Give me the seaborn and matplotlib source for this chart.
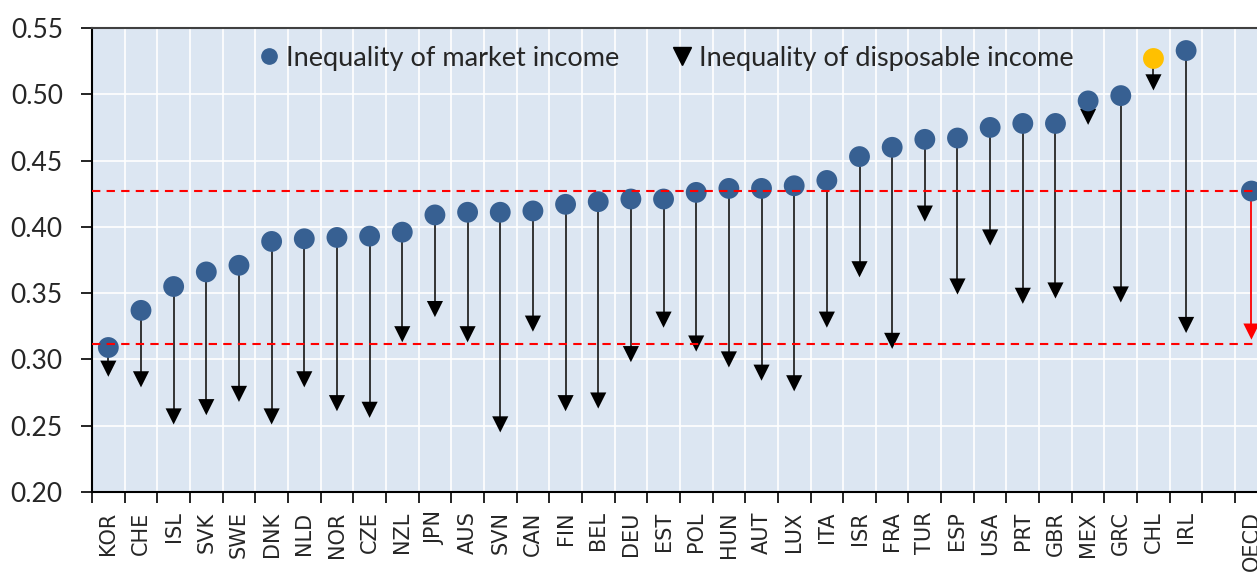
import numpy as np
import pandas as pd
import matplotlib
matplotlib.use("Agg")
import matplotlib.pyplot as plt
import seaborn as sns
from matplotlib.lines import Line2D

# Gini values
countries = ["KOR", "CHE", "ISL", "SVK", "SWE", "DNK", "NLD", "NOR", "CZE", "NZL",
             "JPN", "AUS", "SVN", "CAN", "FIN", "BEL", "DEU", "EST", "POL", "HUN",
             "AUT", "LUX", "ITA", "ISR", "FRA", "TUR", "ESP", "USA", "PRT", "GBR",
             "MEX", "GRC", "CHL", "IRL", "", "OECD"]
market = [0.309, 0.337, 0.355, 0.366, 0.371, 0.389, 0.391, 0.392, 0.393, 0.396,
          0.409, 0.411, 0.411, 0.412, 0.417, 0.419, 0.421, 0.421, 0.426, 0.429,
          0.429, 0.431, 0.435, 0.453, 0.460, 0.466, 0.467, 0.475, 0.478, 0.478,
          0.495, 0.499, 0.527, 0.533, np.nan, 0.427]
disposable = [0.293, 0.285, 0.257, 0.264, 0.274, 0.257, 0.285, 0.267, 0.262, 0.319,
              0.338, 0.319, 0.251, 0.327, 0.267, 0.269, 0.304, 0.330, 0.312, 0.300,
              0.290, 0.282, 0.330, 0.368, 0.314, 0.410, 0.355, 0.392, 0.348, 0.352,
              0.483, 0.349, 0.509, 0.326, np.nan, 0.321]
oecd_lines = [0.427, 0.312]
highlight = "CHL"

df = pd.DataFrame({"country": countries, "market": market, "disposable": disposable})
df["pos"] = np.arange(len(df))
df["dot"] = np.where(df["country"] == highlight, "hl", "base")
df["tri"] = np.where(df["country"] == "OECD", "oecd", "base")

sns.set_style("whitegrid", {"axes.facecolor": "#DCE6F2", "grid.color": "white"})
plt.rcParams["font.family"] = ["Lato", "DejaVu Sans"]

fig = plt.figure(figsize=(12.57, 5.74), dpi=100)
step = 32.66
ax = fig.add_axes([92 / 1257, 82 / 574, len(df) * step / 1257, 464 / 574])

valid = df.dropna()
stem_cols = ["red" if c == "OECD" else "#262626" for c in valid["country"]]
ax.vlines(valid["pos"], valid["disposable"], valid["market"], colors=stem_cols,
          lw=1.3, zorder=2)

sns.scatterplot(data=valid, x="pos", y="disposable", hue="tri", marker="v", s=135,
                palette={"base": "black", "oecd": "red"}, linewidth=0,
                legend=False, zorder=3, ax=ax)
sns.scatterplot(data=valid, x="pos", y="market", hue="dot", marker="o", s=225,
                palette={"base": "#376092", "hl": "#FFC000"}, linewidth=0,
                legend=False, zorder=4, ax=ax)

for v in oecd_lines:
    ax.axhline(v, color="red", ls=(0, (4, 3)), lw=1.5, zorder=5)

ax.set_xlim(-0.5, len(df) - 0.5)
ax.set_ylim(0.20, 0.55)
ax.set_xlabel("")
ax.set_ylabel("")

ax.set_xticks(df["pos"])
ax.set_xticklabels(df["country"], rotation=90, fontsize=15, fontfamily="DejaVu Sans")
ax.set_xticks(np.arange(-0.5, len(df)), minor=True)
ax.tick_params(axis="x", which="major", length=0, pad=14, bottom=True,
               labelsize=15, labelfontfamily="DejaVu Sans")
ax.tick_params(axis="x", which="minor", length=8, width=1.2, color="black",
               direction="out", bottom=True)
yt = np.arange(0.20, 0.551, 0.05)
ax.set_yticks(yt)
ax.set_yticklabels([f"{v:.2f}" for v in yt])
ax.tick_params(axis="y", length=8, width=1.2, color="black", direction="out",
               labelsize=19, pad=13, left=True)

ax.grid(False, axis="x", which="major")
ax.grid(True, axis="x", which="minor", color="white", lw=1.2)
ax.grid(True, axis="y", which="major", color="white", lw=1.2)

for side in ["left", "bottom"]:
    ax.spines[side].set_color("black")
    ax.spines[side].set_linewidth(1.5)
ax.spines["top"].set_color("#404040")
ax.spines["top"].set_linewidth(1.5)
ax.spines["right"].set_visible(False)

handles = [Line2D([], [], marker="o", ls="", color="#376092", markersize=11),
           Line2D([], [], marker="v", ls="", color="black", markersize=13)]
ax.legend(handles, ["Inequality of market income", "Inequality of disposable income"],
          ncol=2, loc="center", bbox_to_anchor=(0.488, 0.935), frameon=False,
          handletextpad=0.25, columnspacing=1.9, handlelength=0.8,
          prop={"family": ["Lato", "DejaVu Sans"], "size": 19.5})

fig.savefig("out.png", dpi=100)
